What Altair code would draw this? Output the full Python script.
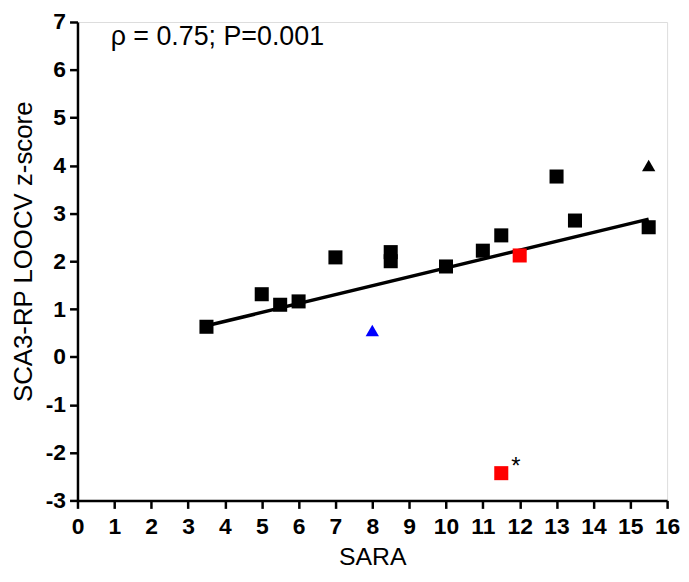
import altair as alt
import pandas as pd

# Black squares
sq_x = [3.5, 5, 5.5, 6, 7, 8.5, 8.5, 10, 11, 11.5, 13, 13.5, 15.5]
sq_y = [0.63, 1.31, 1.09, 1.16, 2.08, 2.19, 2.0, 1.89, 2.22, 2.54, 3.77, 2.85, 2.71]
# Red squares
red_x = [12, 11.5]
red_y = [2.12, -2.43]
# Triangles
tri_black_x = [15.5]
tri_black_y = [4.0]
tri_blue_x = [8]
tri_blue_y = [0.55]
# Regression line endpoints
line_x = [3.5, 15.5]
line_y = [0.65, 2.88]

annot_text = ["ρ = 0.75; P=0.001"]
annot_x = [0.9]
annot_y = [6.69]
star_text = ["*"]
star_x = [11.9]
star_y = [-2.3]

x_ticks = list(range(0, 17))
y_ticks = list(range(-3, 8))

FONT = "Liberation Sans"

xs = alt.Scale(domain=[0, 16], nice=False, zero=False)
ys = alt.Scale(domain=[-3, 7], nice=False, zero=False)

xaxis = alt.Axis(values=x_ticks, tickCount=17, title="SARA", grid=False,
                 domainColor="black", domainWidth=2.5, tickColor="black",
                 tickWidth=2.5, tickSize=8, labelFont=FONT, labelFontSize=23,
                 labelFontWeight="bold", labelColor="black", labelPadding=7,
                 labelFlush=False, labelOverlap=False,
                 labelExpr="'' + datum.value",
                 titleFont=FONT, titleFontSize=25, titleFontWeight="normal",
                 titleColor="black", titlePadding=7)
yaxis = alt.Axis(values=y_ticks, tickCount=11, title="SCA3-RP LOOCV z-score",
                 grid=False, domainColor="black", domainWidth=2.5,
                 tickColor="black", tickWidth=2.5, tickSize=8, labelFont=FONT,
                 labelFontSize=23, labelFontWeight="bold", labelColor="black",
                 labelPadding=4, labelFlush=False, labelOverlap=False,
                 labelExpr="'' + datum.value",
                 titleFont=FONT, titleFontSize=26,
                 titleFontWeight="normal", titleColor="black", titleX=-46,
                 titleY=231, titleBaseline="alphabetic")

line_df = pd.DataFrame({"x": line_x, "y": line_y})
sq_df = pd.DataFrame({"x": sq_x, "y": sq_y})
red_df = pd.DataFrame({"x": red_x, "y": red_y})
tb_df = pd.DataFrame({"x": tri_black_x, "y": tri_black_y})
tbl_df = pd.DataFrame({"x": tri_blue_x, "y": tri_blue_y})
ann_df = pd.DataFrame({"x": annot_x, "y": annot_y, "t": annot_text})
star_df = pd.DataFrame({"x": star_x, "y": star_y, "t": star_text})

X = alt.X("x:Q", scale=xs, axis=xaxis)
Y = alt.Y("y:Q", scale=ys, axis=yaxis)

line = alt.Chart(line_df).mark_line(color="black", strokeWidth=3.5).encode(
    x=X, y=Y)

def pts(df, shape, color, size):
    return alt.Chart(df).mark_point(shape=shape, filled=True, color=color,
                                    opacity=1, size=size).encode(x=X, y=Y)

squares = pts(sq_df, "square", "black", 200)
reds = pts(red_df, "square", "#ff0000", 200)
tri_b = pts(tb_df, "triangle-up", "black", 180)
tri_bl = pts(tbl_df, "triangle-up", "#0000ff", 180)

ann = alt.Chart(ann_df).mark_text(align="left", baseline="middle", font=FONT,
                                  fontSize=27, color="black").encode(
    x=X, y=Y, text="t:N")
star = alt.Chart(star_df).mark_text(align="center", baseline="middle", font=FONT,
                                    fontSize=24, color="black").encode(
    x=X, y=Y, text="t:N")

chart = alt.layer(line, squares, reds, tri_b, tri_bl, ann, star).properties(
    width=594, height=482,
    autosize=alt.AutoSizeParams(type="none"),
    padding={"left": 70, "top": 12, "right": 14, "bottom": 70},
).configure_view(stroke=None).configure(background="white")

chart.save("out.html", embed_options={"renderer": "svg", "actions": False})
